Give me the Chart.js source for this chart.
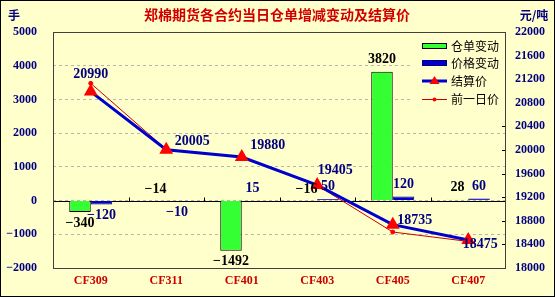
<!DOCTYPE html>
<html>
<head>
<meta charset="utf-8">
<script src="https://cdn.jsdelivr.net/npm/chart.js@4.4.0/dist/chart.umd.min.js"></script>
<style>
  html, body { margin: 0; padding: 0; background: #FFFFCC; }
  #wrap { width: 555px; height: 297px; }
</style>
</head>
<body>
<div id="wrap"><canvas id="c" width="555" height="297"></canvas></div>
<script>
// 合约
const contracts = ["CF309", "CF311", "CF401", "CF403", "CF405", "CF407"];
// 仓单变动 (手)
const warrantChange = [-340, -14, -1492, -16, 3820, 28];
// 价格变动
const priceChange = [-120, -10, 15, 50, 120, 60];
// 结算价 (元/吨)
const settlePrice = [20990, 20005, 19880, 19405, 18735, 18475];
// 前一日价
const prevPrice = [21130, 20010, 19885, 19400, 18610, 18450];
// 刻度
const leftTicks = [-2000, -1000, 0, 1000, 2000, 3000, 4000, 5000];
const rightTicks = [18000, 18400, 18800, 19200, 19600, 20000, 20400, 20800, 21200, 21600, 22000];

const BG = "#FFFFCC";
const NAVY = "#000080";
const minus = v => String(v).replace("-", "\u2212");

// 结算价标签偏移
const settleLabelOffset = [[0, -17], [26, -8], [26, -12], [18, -15], [22, -4], [12, 4]];

const decor = {
  id: "decor",
  beforeDraw(chart) {
    const ctx = chart.ctx;
    ctx.save();
    ctx.fillStyle = BG;
    ctx.fillRect(0, 0, chart.width, chart.height);
    ctx.restore();
  },
  beforeDatasetsDraw(chart) {
    const ctx = chart.ctx;
    const a = chart.chartArea;
    const y0 = Math.round(chart.scales.y.getPixelForValue(0)) + 0.5;
    ctx.save();
    ctx.strokeStyle = "#000";
    ctx.lineWidth = 1;
    ctx.beginPath();
    ctx.moveTo(a.left, y0);
    ctx.lineTo(a.right, y0);
    // 分类刻度
    const step = (a.right - a.left) / contracts.length;
    for (let i = 1; i < contracts.length; i++) {
      const x = Math.round(a.left + step * i) + 0.5;
      ctx.moveTo(x, y0);
      ctx.lineTo(x, y0 - 4);
    }
    // 右轴内刻度
    const y1 = chart.scales.y1;
    rightTicks.forEach(v => {
      const y = Math.round(y1.getPixelForValue(v)) + 0.5;
      ctx.moveTo(a.right, y);
      ctx.lineTo(a.right - 4, y);
    });
    ctx.stroke();
    ctx.restore();
  },
  afterDatasetsDraw(chart) {
    const ctx = chart.ctx;
    const a = chart.chartArea;
    ctx.save();
    ctx.strokeStyle = "#404040";
    ctx.lineWidth = 1;
    ctx.strokeRect(a.left + 0.5, a.top + 0.5, a.right - a.left - 1, a.bottom - a.top);

    ctx.font = "bold 14px 'Liberation Serif'";
    ctx.textAlign = "center";
    ctx.textBaseline = "middle";
    // 柱标签
    const bars = [[0, warrantChange, "#000", -100], [1, priceChange, NAVY, 0]];
    bars.forEach(([idx, vals, color, cut]) => {
      const meta = chart.getDatasetMeta(idx);
      ctx.fillStyle = color;
      meta.data.forEach((el, i) => {
        const top = Math.min(el.y, el.base);
        const bot = Math.max(el.y, el.base);
        const y = vals[i] < cut ? bot + 11 : top - 12;
        ctx.fillText(minus(vals[i]), el.x, y);
      });
    });
    // 结算价标签
    ctx.fillStyle = NAVY;
    chart.getDatasetMeta(2).data.forEach((el, i) => {
      const o = settleLabelOffset[i];
      ctx.fillText(String(settlePrice[i]), el.x + o[0], el.y + o[1]);
    });

    // 图例
    ctx.fillStyle = BG;
    ctx.fillRect(413, 36, 92, 71);
    const rows = [46, 63, 81, 99];
    const names = ["仓单变动", "价格变动", "结算价", "前一日价"];
    const sx = 422, sw = 25;
    ctx.fillStyle = "#33FF33";
    ctx.fillRect(sx, rows[0] - 3, sw, 6);
    ctx.strokeStyle = "#000";
    ctx.strokeRect(sx + 0.5, rows[0] - 2.5, sw - 1, 5);
    ctx.fillStyle = "#0000CC";
    ctx.fillRect(sx, rows[1] - 3, sw, 6);
    ctx.strokeStyle = NAVY;
    ctx.strokeRect(sx + 0.5, rows[1] - 2.5, sw - 1, 5);
    ctx.strokeStyle = "#0000CC";
    ctx.lineWidth = 3;
    ctx.beginPath();
    ctx.moveTo(sx, rows[2]);
    ctx.lineTo(sx + sw, rows[2]);
    ctx.stroke();
    ctx.fillStyle = "#FF0000";
    ctx.beginPath();
    ctx.moveTo(sx + sw / 2, rows[2] - 5);
    ctx.lineTo(sx + sw / 2 + 5, rows[2] + 3);
    ctx.lineTo(sx + sw / 2 - 5, rows[2] + 3);
    ctx.closePath();
    ctx.fill();
    ctx.strokeStyle = "#CC0000";
    ctx.lineWidth = 1;
    ctx.beginPath();
    ctx.moveTo(sx, rows[3] + 0.5);
    ctx.lineTo(sx + sw, rows[3] + 0.5);
    ctx.stroke();
    ctx.fillStyle = "#FF0000";
    ctx.beginPath();
    ctx.arc(sx + sw / 2, rows[3] + 0.5, 2, 0, Math.PI * 2);
    ctx.fill();
    ctx.fillStyle = "#000";
    ctx.font = "12px 'Noto Sans CJK SC'";
    ctx.textAlign = "left";
    names.forEach((n, i) => ctx.fillText(n, 451, rows[i]));
    ctx.restore();
  },
  afterDraw(chart) {
    const ctx = chart.ctx;
    ctx.save();
    ctx.textAlign = "center";
    ctx.textBaseline = "middle";
    ctx.fillStyle = "#D00000";
    ctx.font = "bold 14px 'Noto Sans CJK SC'";
    ctx.fillText("郑棉期货各合约当日仓单增减变动及结算价", 277, 15);
    ctx.fillStyle = NAVY;
    ctx.font = "bold 12px 'Noto Sans CJK SC'";
    ctx.fillText("手", 14, 15);
    ctx.fillText("元/吨", 534, 15);
    ctx.strokeStyle = "#000";
    ctx.lineWidth = 1;
    ctx.strokeRect(0.5, 0.5, chart.width - 1, chart.height - 1);
    ctx.restore();
  }
};

const tickFont = { family: "'Liberation Serif'", size: 12, weight: "bold" };

new Chart(document.getElementById("c"), {
  type: "bar",
  data: {
    labels: contracts,
    datasets: [
      {
        label: "仓单变动",
        data: warrantChange,
        backgroundColor: "#33FF33",
        borderColor: "#000",
        borderWidth: 1,
        categoryPercentage: 0.57,
        barPercentage: 1,
        yAxisID: "y",
        order: 3
      },
      {
        label: "价格变动",
        data: priceChange,
        backgroundColor: "#0000CC",
        borderColor: NAVY,
        borderWidth: 1,
        categoryPercentage: 0.57,
        barPercentage: 1,
        yAxisID: "y",
        order: 3
      },
      {
        type: "line",
        label: "结算价",
        data: settlePrice,
        borderColor: "#0000CC",
        borderWidth: 3,
        pointStyle: "triangle",
        pointRadius: 5,
        pointBackgroundColor: "#FF0000",
        pointBorderColor: "#FF0000",
        yAxisID: "y1",
        order: 1
      },
      {
        type: "line",
        label: "前一日价",
        data: prevPrice,
        borderColor: "#CC0000",
        borderWidth: 1,
        pointStyle: "circle",
        pointRadius: 2,
        pointBackgroundColor: "#FF0000",
        pointBorderColor: "#FF0000",
        yAxisID: "y1",
        order: 2
      }
    ]
  },
  options: {
    responsive: false,
    animation: false,
    devicePixelRatio: 1,
    layout: { padding: { top: 32, left: 0, right: 0, bottom: 0 } },
    plugins: {
      legend: { display: false },
      title: { display: false },
      tooltip: { enabled: false }
    },
    scales: {
      x: {
        grid: { display: false, drawTicks: false },
        border: { display: false },
        ticks: { color: "#CC0000", font: tickFont, padding: 6 },
        afterFit: s => { s.height = 29; }
      },
      y: {
        position: "left",
        min: -2000,
        max: 5000,
        afterBuildTicks: s => { s.ticks = leftTicks.map(v => ({ value: v })); },
        grid: { color: "#B8B8A8", drawTicks: false },
        border: { display: false, dash: [3, 3] },
        ticks: { color: NAVY, font: tickFont, padding: 16, autoSkip: false, callback: v => minus(v) },
        afterFit: s => { s.width = 53; }
      },
      y1: {
        position: "right",
        min: 18000,
        max: 22000,
        afterBuildTicks: s => { s.ticks = rightTicks.map(v => ({ value: v })); },
        grid: { drawOnChartArea: false, drawTicks: false },
        border: { display: false },
        ticks: { color: NAVY, font: tickFont, padding: 9, autoSkip: false, callback: v => String(v) },
        afterFit: s => { s.width = 49; }
      }
    }
  },
  plugins: [decor]
});
</script>
</body>
</html>
